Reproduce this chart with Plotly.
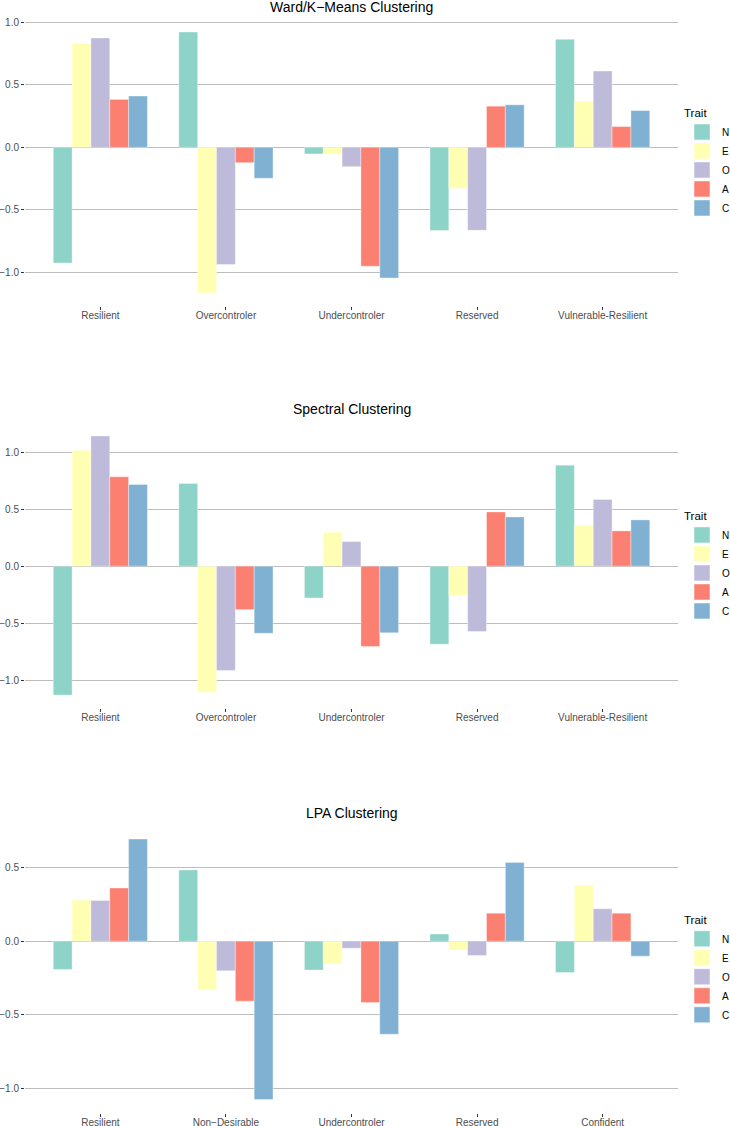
import plotly.graph_objects as go

traits = ["N", "E", "O", "A", "C"]
trait_colors = ["#8DD3C7", "#FFFFB3", "#BEBADA", "#FB8072", "#80B1D3"]

titles = ["Ward/K\u2212Means Clustering", "Spectral Clustering", "LPA Clustering"]

cats_ward = ["Resilient", "Overcontroler", "Undercontroler", "Reserved", "Vulnerable-Resilient"]
cats_spec = ["Resilient", "Overcontroler", "Undercontroler", "Reserved", "Vulnerable-Resilient"]
cats_lpa = ["Resilient", "Non\u2212Desirable", "Undercontroler", "Reserved", "Confident"]

# values per trait, ordered by category
ward = {
    "N": [-0.925, 0.922, -0.053, -0.666, 0.864],
    "E": [0.830, -1.165, -0.055, -0.329, 0.369],
    "O": [0.875, -0.938, -0.155, -0.664, 0.610],
    "A": [0.383, -0.123, -0.951, 0.329, 0.166],
    "C": [0.410, -0.248, -1.045, 0.340, 0.294],
}
spec = {
    "N": [-1.130, 0.725, -0.279, -0.684, 0.885],
    "E": [1.016, -1.106, 0.297, -0.256, 0.358],
    "O": [1.141, -0.914, 0.215, -0.573, 0.585],
    "A": [0.783, -0.381, -0.704, 0.475, 0.309],
    "C": [0.716, -0.588, -0.585, 0.431, 0.405],
}
lpa = {
    "N": [-0.193, 0.483, -0.197, 0.048, -0.213],
    "E": [0.279, -0.333, -0.156, -0.061, 0.379],
    "O": [0.277, -0.202, -0.048, -0.098, 0.220],
    "A": [0.361, -0.408, -0.417, 0.190, 0.190],
    "C": [0.694, -1.077, -0.633, 0.535, -0.102],
}

panels = [(cats_ward, ward), (cats_spec, spec), (cats_lpa, lpa)]

W, H = 730, 1126
# plot area pixel boxes (top, bottom)
boxes = [(19, 306), (423, 708), (826, 1112.6)]
title_y = [7, 409, 813]
x0, x1 = 25, 678

FONT = "Liberation Sans, Arial, Helvetica, sans-serif"

fig = go.Figure()
layout = dict(
    width=W, height=H,
    margin=dict(l=0, r=0, t=0, b=0, pad=0, autoexpand=False),
    plot_bgcolor="white", paper_bgcolor="white",
    barmode="group", bargap=0.25, bargroupgap=0,
    font=dict(family=FONT, color="#4D4D4D", size=10),
    annotations=[],
)

for i, (cats, data) in enumerate(panels):
    n = i + 1
    xa = "x" if n == 1 else f"x{n}"
    ya = "y" if n == 1 else f"y{n}"
    lg = "legend" if n == 1 else f"legend{n}"
    for t, col in zip(traits, trait_colors):
        grp = f"p{n}_{t}"
        fig.add_trace(go.Bar(
            x=cats, y=data[t], name=t, marker_color=col,
            marker_line=dict(color="rgba(255,255,255,0.6)", width=0.6),
            xaxis=xa, yaxis=ya, legend=lg, legendgroup=grp, showlegend=False,
            hovertemplate="%{x}<br>" + t + ": %{y}<extra></extra>",
        ))
        # legend key (larger square swatch, like ggplot)
        fig.add_trace(go.Scatter(
            x=[None], y=[None], name=t, mode="markers",
            marker=dict(symbol="square", size=16, color=col,
                        line=dict(color="white", width=0.5)),
            xaxis=xa, yaxis=ya, legend=lg, legendgroup=grp, showlegend=True,
            hoverinfo="skip",
        ))
    allv = [v for t in traits for v in data[t]]
    lo, hi = min(allv), max(allv)
    pad = (hi - lo) * 0.05
    top, bot = boxes[i]
    dom = [1 - bot / H, 1 - top / H]
    layout[f"xaxis{'' if n == 1 else n}"] = dict(
        domain=[x0 / W, x1 / W], anchor=ya, range=[-0.6, 4.6],
        showgrid=False, zeroline=False, showline=False, automargin=False,
        ticks="outside", ticklen=3, tickwidth=1, tickcolor="#333333",
        ticklabelstandoff=-3,
        tickfont=dict(size=10, color="#4D4D4D"), fixedrange=True,
    )
    layout[f"yaxis{'' if n == 1 else n}"] = dict(
        domain=dom, anchor=xa, range=[lo - pad, hi + pad],
        dtick=0.5, tick0=0, tickformat=".1f",
        showgrid=True, gridcolor="#BDBDBD", gridwidth=1,
        zeroline=False, showline=False, automargin=False,
        ticks="outside", ticklen=3, tickwidth=1, tickcolor="#333333",
        tickfont=dict(size=10, color="#4D4D4D"), fixedrange=True,
    )
    layout[lg] = dict(
        x=682 / W, xanchor="left", y=(dom[0] + dom[1]) / 2, yanchor="middle",
        title=dict(text="Trait", font=dict(size=11.5, color="black")),
        font=dict(size=10, color="black"), bgcolor="rgba(0,0,0,0)",
        tracegroupgap=0, borderwidth=0, itemsizing="trace",
    )
    layout["annotations"].append(dict(
        text=titles[i], x=(x0 + x1) / 2 / W, y=1 - title_y[i] / H,
        xref="paper", yref="paper", xanchor="center", yanchor="middle",
        showarrow=False, font=dict(size=14, color="black", family=FONT),
    ))

fig.update_layout(**layout)
fig.write_html(
    "out.html",
    config={"displayModeBar": False},
    post_script="document.body.style.margin='0';document.body.style.overflow='hidden';",
)
